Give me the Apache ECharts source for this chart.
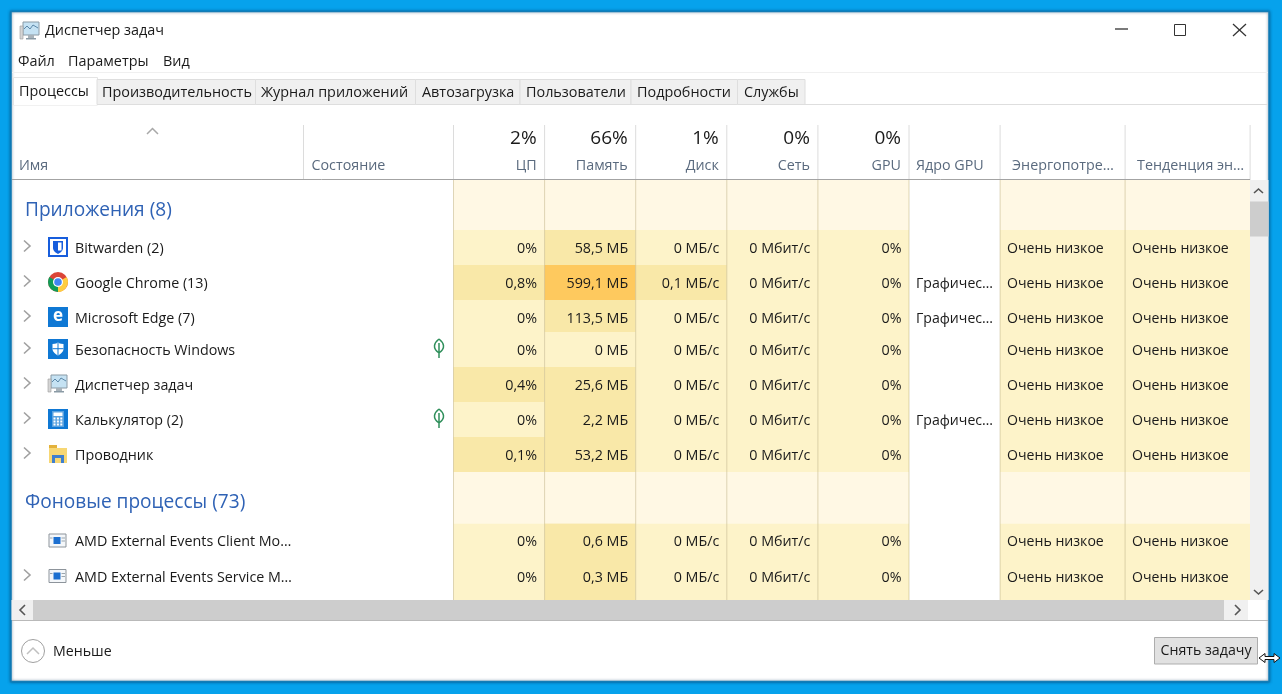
<!DOCTYPE html>
<html>
<head>
<meta charset="utf-8">
<title>Диспетчер задач</title>
<style>
  html, body { margin: 0; padding: 0; background: #06a2ec; }
  #chart { width: 1282px; height: 694px; }
</style>
<script src="https://cdn.jsdelivr.net/npm/echarts@6/dist/echarts.min.js"></script>
</head>
<body>
<div id="chart"></div>
<script>
// values
var appNames = ['Bitwarden (2)', 'Google Chrome (13)', 'Microsoft Edge (7)', 'Безопасность Windows', 'Диспетчер задач', 'Калькулятор (2)', 'Проводник'];
var backgroundNames = ['AMD External Events Client Mo…', 'AMD External Events Service M…'];
var groupTitles = ['Приложения (8)', 'Фоновые процессы (73)'];
var cpuPercent = [0, 0.8, 0, 0, 0.4, 0, 0.1, 0, 0];
var memoryMb = [58.5, 599.1, 113.5, 0, 25.6, 2.2, 53.2, 0.6, 0.3];
var diskMbs = [0, 0.1, 0, 0, 0, 0, 0, 0, 0];
var networkMbit = [0, 0, 0, 0, 0, 0, 0, 0, 0];
var gpuPercent = [0, 0, 0, 0, 0, 0, 0, 0, 0];
var gpuEngine = ['', 'Графичес…', 'Графичес…', '', '', 'Графичес…', '', '', ''];
var energyUse = ['Очень низкое', 'Очень низкое', 'Очень низкое', 'Очень низкое', 'Очень низкое', 'Очень низкое', 'Очень низкое', 'Очень низкое', 'Очень низкое'];
var energyTrend = ['Очень низкое', 'Очень низкое', 'Очень низкое', 'Очень низкое', 'Очень низкое', 'Очень низкое', 'Очень низкое', 'Очень низкое', 'Очень низкое'];
var leafFlags = [false, false, false, true, false, true, false, false, false];
var expandable = [true, true, true, true, true, true, true, false, true];
var rowIcons = ['bitwarden', 'chrome', 'edge', 'shield', 'taskmgr', 'calc', 'explorer', 'amd', 'amd'];
var columnTitles = ['Имя', 'Состояние', 'ЦП', 'Память', 'Диск', 'Сеть', 'GPU', 'Ядро GPU', 'Энергопотре…', 'Тенденция эн…'];
var columnTotals = ['', '', '2%', '66%', '1%', '0%', '0%', '', '', ''];
var tabTitles = ['Процессы', 'Производительность', 'Журнал приложений', 'Автозагрузка', 'Пользователи', 'Подробности', 'Службы'];
var menuTitles = ['Файл', 'Параметры', 'Вид'];

// table layout, in axis units
var columnWidths = [292.5, 150, 91.1, 91.1, 91.1, 91.1, 91.1, 91.1, 125, 125];
var headerHeight = 55;
var groupHeights = [50, 51.5];
var rowHeights = [35, 35, 32, 35, 35, 35, 35, 35.5, 41];
var appRowCount = appNames.length;

var FONT = '"Open Sans", "Noto Sans", sans-serif';
var TEXT = '#1a1a1a';
var GROUP_BG = '#fff8e4';
var HEAT_BASE = '#fdf3c9';
var HEAT_MID = '#f9e8a8';
var HEAT_HIGH = '#fec95e';

function comma(v) { return String(v).replace('.', ','); }

function heat(v, high) {
  if (v === 0) return HEAT_BASE;
  return v >= high ? HEAT_HIGH : HEAT_MID;
}

var columnCells = [
  { col: 2, format: function (i) { return comma(cpuPercent[i]) + '%'; }, fill: function (i) { return heat(cpuPercent[i], 50); } },
  { col: 3, format: function (i) { return comma(memoryMb[i]) + ' МБ'; }, fill: function (i) { return heat(memoryMb[i], 500); } },
  { col: 4, format: function (i) { return comma(diskMbs[i]) + ' МБ/с'; }, fill: function (i) { return heat(diskMbs[i], 50); } },
  { col: 5, format: function (i) { return comma(networkMbit[i]) + ' Мбит/с'; }, fill: function (i) { return heat(networkMbit[i], 50); } },
  { col: 6, format: function (i) { return comma(gpuPercent[i]) + '%'; }, fill: function (i) { return heat(gpuPercent[i], 50); } },
  { col: 7, left: true, format: function (i) { return gpuEngine[i]; }, fill: function () { return '#ffffff'; } },
  { col: 8, left: true, format: function (i) { return energyUse[i]; }, fill: function () { return HEAT_BASE; } },
  { col: 9, left: true, format: function (i) { return energyTrend[i]; }, fill: function () { return HEAT_BASE; } }
];

// running edges of columns and rows
var colEdges = [0];
columnWidths.forEach(function (w, i) { colEdges.push(colEdges[i] + w); });

var rowTops = [];
var groupTops = [];
var cursor = headerHeight;
groupTops.push(cursor);
cursor += groupHeights[0];
rowHeights.forEach(function (h, i) {
  if (i === appRowCount) {
    groupTops.push(cursor);
    cursor += groupHeights[1];
  }
  rowTops.push(cursor);
  cursor += h;
});
var tableBottom = cursor;

var cells = [];
columnCells.forEach(function (c) {
  groupTops.forEach(function (top, g) {
    cells.push({ x0: colEdges[c.col], x1: colEdges[c.col + 1], y0: top, y1: top + groupHeights[g], fill: c.col === 7 ? '#ffffff' : GROUP_BG, text: '' });
  });
  rowTops.forEach(function (top, r) {
    cells.push({
      x0: colEdges[c.col], x1: colEdges[c.col + 1], y0: top, y1: top + rowHeights[r],
      fill: c.fill(r), text: c.format(r), left: c.left
    });
  });
});

function renderCell(params, api) {
  var c = cells[params.dataIndex];
  var a = api.coord([c.x0, c.y0]);
  var b = api.coord([c.x1, c.y1]);
  var children = [{ type: 'rect', shape: { x: a[0], y: a[1], width: b[0] - a[0], height: b[1] - a[1] }, style: { fill: c.fill } }];
  if (c.text) {
    children.push({
      type: 'text',
      x: c.left ? a[0] + 7 : b[0] - 7.5,
      y: a[1] + 18.7,
      style: { text: c.text, fill: TEXT, fontFamily: FONT, fontSize: c.left ? 14.1 : 14.3, align: c.left ? 'left' : 'right', verticalAlign: 'middle' }
    });
  }
  return { type: 'group', children: children };
}

function square(color, inner) {
  return [{ type: 'rect', shape: { x: -10, y: -10, width: 20, height: 20 }, style: { fill: color } }].concat(inner);
}

function icon(name) {
  if (name === 'bitwarden') {
    return square('#175ddc', [
      { type: 'rect', shape: { x: -8, y: -8, width: 16, height: 16 }, style: { fill: '#ffffff' } },
      { type: 'path', shape: { pathData: 'M-5,-6 L5,-6 L5,1 C5,4 2,6 0,7 C-2,6 -5,4 -5,1 Z' }, style: { fill: '#175ddc' } },
      { type: 'rect', shape: { x: 0, y: -4.5, width: 3.5, height: 8 }, style: { fill: '#ffffff' } }
    ]);
  }
  if (name === 'chrome') {
    return [
      { type: 'circle', shape: { cx: 0, cy: 0, r: 10 }, style: { fill: '#db4437' } },
      { type: 'sector', shape: { cx: 0, cy: 0, r: 10, startAngle: Math.PI / 2, endAngle: Math.PI * 7 / 6 }, style: { fill: '#0f9d58' } },
      { type: 'sector', shape: { cx: 0, cy: 0, r: 10, startAngle: -Math.PI / 6, endAngle: Math.PI / 2 }, style: { fill: '#ffcd40' } },
      { type: 'circle', shape: { cx: 0, cy: 0, r: 5 }, style: { fill: '#ffffff' } },
      { type: 'circle', shape: { cx: 0, cy: 0, r: 3.8 }, style: { fill: '#4285f4' } }
    ];
  }
  if (name === 'edge') {
    return square('#0f78d4', [
      { type: 'text', x: 0, y: -1, style: { text: 'e', fill: '#ffffff', fontFamily: FONT, fontWeight: 'bold', fontSize: 17, align: 'center', verticalAlign: 'middle' } }
    ]);
  }
  if (name === 'shield') {
    return square('#0f78d4', [
      { type: 'path', shape: { pathData: 'M-5.5,-5 C-2,-5 -1,-6 0,-6.5 C1,-6 2,-5 5.5,-5 L5.5,0 C5.5,3 2,5.5 0,6.5 C-2,5.5 -5.5,3 -5.5,0 Z' }, style: { fill: '#ffffff' } },
      { type: 'rect', shape: { x: -0.5, y: -6, width: 1, height: 12 }, style: { fill: '#0f78d4' } },
      { type: 'rect', shape: { x: -5.5, y: -0.8, width: 11, height: 1 }, style: { fill: '#0f78d4' } }
    ]);
  }
  if (name === 'taskmgr') {
    return [
      { type: 'rect', shape: { x: -7, y: -9, width: 16, height: 13 }, style: { fill: '#c5e2f3', stroke: '#8a9aa5', lineWidth: 1 } },
      { type: 'polyline', shape: { points: [[-6, -2], [-3, -5], [0, -2], [3, -6], [8, -3]] }, style: { stroke: '#5b87a8', fill: 'none', lineWidth: 1 } },
      { type: 'rect', shape: { x: -10, y: -5, width: 3, height: 13 }, style: { fill: '#d5d5d5', stroke: '#9a9a9a', lineWidth: 0.6 } },
      { type: 'rect', shape: { x: -2, y: 4, width: 6, height: 3 }, style: { fill: '#a9b3ba' } },
      { type: 'rect', shape: { x: -4, y: 7, width: 10, height: 1.5 }, style: { fill: '#8a9aa5' } }
    ];
  }
  if (name === 'calc') {
    var keys = [];
    for (var ky = 0; ky < 3; ky++) {
      for (var kx = 0; kx < 3; kx++) {
        keys.push({ type: 'rect', shape: { x: -4.5 + kx * 3.4, y: -1.5 + ky * 3, width: 2, height: 2 }, style: { fill: '#ffffff' } });
      }
    }
    return square('#0f78d4', [
      { type: 'rect', shape: { x: -6, y: -8, width: 12, height: 16 }, style: { fill: '#5aa2e0' } },
      { type: 'rect', shape: { x: -4.5, y: -6.5, width: 9, height: 3.5 }, style: { fill: '#ffffff' } }
    ].concat(keys));
  }
  if (name === 'explorer') {
    return [
      { type: 'rect', shape: { x: -9, y: -9, width: 8, height: 4 }, style: { fill: '#e3b23c' } },
      { type: 'rect', shape: { x: -9, y: -6, width: 18, height: 15 }, style: { fill: '#f7d774' } },
      { type: 'rect', shape: { x: -6, y: 1, width: 12, height: 3 }, style: { fill: '#3f7fcf' } },
      { type: 'rect', shape: { x: -6, y: 4, width: 3, height: 5 }, style: { fill: '#3f7fcf' } },
      { type: 'rect', shape: { x: 3, y: 4, width: 3, height: 5 }, style: { fill: '#3f7fcf' } }
    ];
  }
  // amd service window
  return [
    { type: 'rect', shape: { x: -9, y: -6.5, width: 17, height: 13 }, style: { fill: '#f4f7fa', stroke: '#8d949b', lineWidth: 1 } },
    { type: 'rect', shape: { x: -4.5, y: -3.5, width: 7, height: 7 }, style: { fill: '#1c6fd0' } },
    { type: 'rect', shape: { x: -8, y: -3, width: 2.5, height: 1 }, style: { fill: '#9aa5ae' } },
    { type: 'rect', shape: { x: 3.5, y: -3, width: 3.5, height: 1 }, style: { fill: '#9aa5ae' } },
    { type: 'rect', shape: { x: 3.5, y: 0, width: 3.5, height: 1 }, style: { fill: '#9aa5ae' } }
  ];
}

function renderRow(params, api) {
  var i = params.dataIndex;
  var y = api.coord([0, rowTops[i]])[1] + 17;
  var left = api.coord([0, 0])[0];
  var names = appNames.concat(backgroundNames);
  var children = [
    { type: 'group', x: left + 47, y: y, children: icon(rowIcons[i]) },
    { type: 'text', x: left + 64, y: y + 1.7, style: { text: names[i], fill: TEXT, fontFamily: FONT, fontSize: 14.3, align: 'left', verticalAlign: 'middle' } }
  ];
  if (expandable[i]) {
    children.push({ type: 'polyline', x: left + 16, y: y - 1, shape: { points: [[-3, -5.5], [3, 0], [-3, 5.5]] }, style: { stroke: '#a0a0a0', fill: 'none', lineWidth: 1.6 } });
  }
  if (leafFlags[i]) {
    children.push({ type: 'path', x: left + 428, y: y - 1, shape: { pathData: 'M0,-9 C5,-5 7,0 0,5 C-7,0 -5,-5 0,-9 M0,-5 L0,10' }, style: { stroke: '#2f8f5b', fill: 'none', lineWidth: 1.5 } });
  }
  return { type: 'group', children: children };
}

function renderGroup(params, api) {
  var i = params.dataIndex;
  var p = api.coord([0, groupTops[i]]);
  return {
    type: 'text', x: p[0] + 14, y: p[1] + 30.5,
    style: { text: groupTitles[i], fill: '#2f62b5', fontFamily: FONT, fontSize: 19.1, align: 'left', verticalAlign: 'middle' }
  };
}

function renderHeader(params, api) {
  var c = params.dataIndex;
  var x0 = api.coord([colEdges[c], 0])[0];
  var x1 = api.coord([colEdges[c + 1], 0])[0];
  var top = api.coord([0, 0])[1];
  var bottom = api.coord([0, headerHeight])[1];
  var onLeft = c < 2 || c > 6;
  var inset = c === 0 ? 8 : (c === 7 ? 7 : (c > 7 ? 12 : 8));
  var children = [
    { type: 'line', shape: { x1: x1, y1: top, x2: x1, y2: bottom }, style: { stroke: '#dcdcdc', lineWidth: 1 } },
    {
      type: 'text', x: onLeft ? x0 + inset : x1 - inset, y: top + 41,
      style: { text: columnTitles[c], fill: '#5a6a7e', fontFamily: FONT, fontSize: 14.3, align: onLeft ? 'left' : 'right', verticalAlign: 'middle' }
    }
  ];
  if (columnTotals[c]) {
    children.push({
      type: 'text', x: x1 - 8, y: top + 14,
      style: { text: columnTotals[c], fill: TEXT, fontFamily: FONT, fontSize: 19, align: 'right', verticalAlign: 'middle' }
    });
  }
  return { type: 'group', children: children };
}

function renderDivider(params, api) {
  var c = params.dataIndex + 2;
  var x = api.coord([colEdges[c], 0])[0];
  var top = api.coord([0, headerHeight])[1];
  var bottom = api.coord([0, tableBottom])[1];
  return { type: 'line', shape: { x1: x, y1: top, x2: x, y2: bottom }, style: { stroke: 'rgba(190,175,125,0.5)', lineWidth: 1 } };
}

// window frame around the table
function chromeText(text, x, y, size, fill, align) {
  return { type: 'text', x: x, y: y + 1.2, z: 20, style: { text: text, fill: fill || TEXT, fontFamily: FONT, fontSize: size || 14.4, align: align || 'left', verticalAlign: 'middle' } };
}
function box(x, y, w, h, fill, stroke) {
  return { type: 'rect', z: 18, shape: { x: x, y: y, width: w, height: h }, style: { fill: fill || 'none', stroke: stroke || 'none', lineWidth: 1 } };
}
function hline(x1, x2, y, color) {
  return { type: 'line', z: 18, shape: { x1: x1, y1: y, x2: x2, y2: y }, style: { stroke: color, lineWidth: 1 } };
}
function stroke(points, color, width) {
  return { type: 'polyline', z: 20, shape: { points: points }, style: { stroke: color, fill: 'none', lineWidth: width || 1 } };
}

var tabX = [19, 102, 261, 422, 526, 637, 744];
var tabEdges = [97, 255.5, 415.5, 520, 631, 737.5, 805];
var menuX = [18, 68, 163];

var frame = [
  { type: 'rect', z: 1, shape: { x: 11, y: 11.5, width: 1258, height: 670 }, style: { fill: '#ffffff', stroke: '#127cb6', lineWidth: 1.5, shadowBlur: 3, shadowColor: 'rgba(0,50,90,0.6)' } },
  { type: 'group', x: 30, y: 31, z: 20, children: icon('taskmgr').map(function (el) { el.z = 20; return el; }) },
  chromeText('Диспетчер задач', 45, 30),
  stroke([[1115, 29], [1128, 29]], '#222222', 1.2),
  box(1174.5, 24.5, 11, 11, '#ffffff', '#333333'),
  stroke([[1233, 24], [1246, 36]], '#333333', 1.2),
  stroke([[1246, 24], [1233, 36]], '#333333', 1.2),
  hline(12, 1268, 72.5, '#f0f0f0'),
  hline(12, 1268, 104.5, '#dedede'),
  hline(12, 1250, 179.5, '#a3a3a3'),
  stroke([[147, 134], [152.5, 128.5], [158, 134]], '#a8a8a8', 1.5),
  // vertical scrollbar
  box(1250, 180, 18.5, 420, '#f0f0f0'),
  box(1250, 201.5, 18.5, 35, '#cdcdcd'),
  stroke([[1254, 193], [1258.5, 189], [1263, 193]], '#555555', 1.6),
  stroke([[1254, 590], [1258.5, 594], [1263, 590]], '#555555', 1.6),
  // horizontal scrollbar
  box(11.5, 600, 21.5, 20, '#f0f0f0'),
  box(33, 600, 1191, 20, '#cdcdcd'),
  box(1224, 600, 24, 20, '#f0f0f0'),
  stroke([[25, 605], [20, 610], [25, 615]], '#555555', 1.6),
  stroke([[1235, 605], [1240, 610], [1235, 615]], '#555555', 1.6),
  hline(12, 1268, 620.5, '#b9b9b9'),
  // bottom panel
  { type: 'circle', z: 18, shape: { cx: 33, cy: 651, r: 11.5 }, style: { fill: '#ffffff', stroke: '#a0a0a0', lineWidth: 1 } },
  stroke([[27, 654], [33, 648], [39, 654]], '#c0c0c0', 1.5),
  chromeText('Меньше', 53, 650.5, 14.2),
  box(1154.5, 637.5, 103, 26.5, '#e1e1e1', '#adadad'),
  chromeText('Снять задачу', 1206, 650, 14.2, TEXT, 'center'),
  // resize cursor
  { type: 'polygon', z: 25, shape: { points: [[1259, 658], [1265, 653.5], [1265, 656.5], [1274, 656.5], [1274, 653.5], [1280, 658], [1274, 662.5], [1274, 659.5], [1265, 659.5], [1265, 662.5]] }, style: { fill: '#ffffff', stroke: '#111111', lineWidth: 1 } }
];

// tabs
tabTitles.forEach(function (t, i) {
  var x0 = i === 0 ? 13 : tabEdges[i - 1];
  if (i === 0) {
    frame.push(box(x0 + 0.5, 77.5, tabEdges[0] - x0, 27.5, '#ffffff', '#e4e4e4'));
    frame.push(hline(x0 + 1, tabEdges[0], 104.5, '#ffffff'));
  } else {
    frame.push(box(x0, 79.5, tabEdges[i] - x0, 25, '#f0f0f0', '#dedede'));
  }
  frame.push(chromeText(t, tabX[i], i === 0 ? 90.5 : 91.5));
});
menuTitles.forEach(function (t, i) {
  frame.push(chromeText(t, menuX[i], 60.5));
});

var myChart = echarts.init(document.getElementById('chart'));
var option = {
  animation: false,
  backgroundColor: '#06a2ec',
  tooltip: { show: false },
  grid: { left: 11, top: 125, width: colEdges[colEdges.length - 1], height: tableBottom },
  xAxis: { type: 'value', min: 0, max: colEdges[colEdges.length - 1], show: false },
  yAxis: { type: 'value', min: 0, max: tableBottom, inverse: true, show: false },
  graphic: { elements: frame },
  series: [
    { type: 'custom', z: 5, clip: false, silent: true, renderItem: renderCell, data: cells.map(function (c) { return [c.x0, c.y0, c.x1, c.y1]; }) },
    { type: 'custom', z: 6, clip: false, silent: true, renderItem: renderDivider, data: colEdges.slice(2, 10) },
    { type: 'custom', z: 6, clip: false, silent: true, renderItem: renderHeader, data: columnTitles },
    { type: 'custom', z: 6, clip: false, silent: true, renderItem: renderRow, data: appNames.concat(backgroundNames) },
    { type: 'custom', z: 6, clip: false, silent: true, renderItem: renderGroup, data: groupTitles }
  ]
};
option && myChart.setOption(option);
</script>
</body>
</html>
